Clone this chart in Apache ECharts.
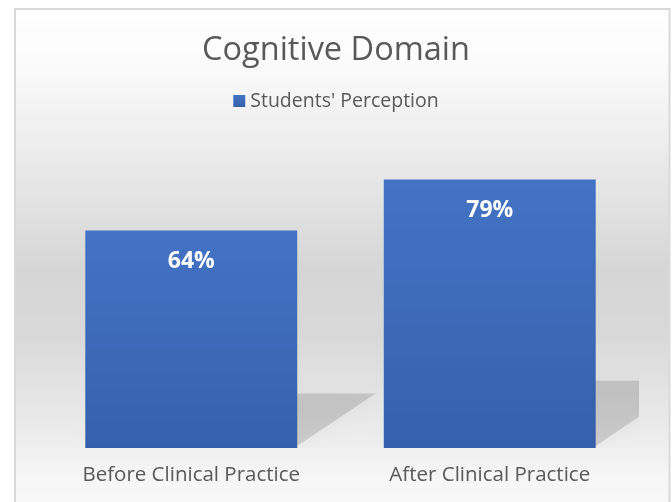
<!DOCTYPE html>
<html>
<head>
<meta charset="utf-8">
<script src="https://cdn.jsdelivr.net/npm/echarts@6/dist/echarts.min.js"></script>
<style>
    html, body { margin: 0; padding: 0; background: #ffffff; }
    #chart { width: 672px; height: 502px; }
</style>
</head>
<body>
<div id="chart"></div>
<script>
    // data
    const categories = ['Before Clinical Practice', 'After Clinical Practice'];
    const seriesName = "Students' Perception";
    const values = [64, 79];

    const textColor = '#595959';
    const fontFamily = '"Open Sans", "Noto Sans", sans-serif';

    const chart = echarts.init(document.getElementById('chart'));

    // perspective shadow cast by each bar onto the floor
    function renderShadow(params, api) {
        const idx = api.value(0);
        const base = api.coord([idx, 0]);
        const top = api.coord([idx, api.value(1)]);
        const bandW = api.size([1, 0])[0];
        const barW = bandW * 0.71;
        const h = base[1] - top[1];
        const dx = h * 0.36;
        const dy = h * 0.25;
        const xL = base[0] - barW / 2;
        const xR = base[0] + barW / 2;
        return {
            type: 'polygon',
            shape: {
                points: [
                    [xL, base[1] - 2],
                    [xR, base[1] - 2],
                    [xR + dx, base[1] - dy],
                    [xL + dx, base[1] - dy]
                ]
            },
            style: {
                fill: 'rgba(0,0,0,0.13)',
                shadowBlur: 14,
                shadowColor: 'rgba(0,0,0,0.22)'
            }
        };
    }

    const option = {
        backgroundColor: '#ffffff',
        animation: false,
        graphic: [{
            type: 'rect',
            z: -10,
            silent: true,
            shape: { x: 15, y: 9, width: 654.5, height: 520 },
            style: {
                stroke: '#d9d9d9',
                lineWidth: 2,
                fill: {
                    type: 'linear', x: 0, y: 0, x2: 0, y2: 1,
                    colorStops: [
                        { offset: 0, color: '#ffffff' },
                        { offset: 0.1, color: '#fbfbfb' },
                        { offset: 0.27, color: '#ececec' },
                        { offset: 0.5, color: '#d6d6d6' },
                        { offset: 0.62, color: '#d8d8d8' },
                        { offset: 0.79, color: '#e9e9e9' },
                        { offset: 0.9, color: '#f6f6f6' },
                        { offset: 1, color: '#fbfbfb' }
                    ]
                }
            }
        }],
        title: {
            text: 'Cognitive Domain',
            left: 'center',
            top: 29,
            textStyle: {
                color: textColor,
                fontFamily: fontFamily,
                fontSize: 32.5,
                fontWeight: 'normal'
            }
        },
        legend: {
            data: [seriesName],
            top: 86,
            left: 'center',
            icon: 'rect',
            itemWidth: 12,
            itemHeight: 12,
            itemGap: 6,
            textStyle: {
                color: textColor,
                fontFamily: fontFamily,
                fontSize: 19.5
            }
        },
        grid: {
            left: 42,
            right: 33,
            top: 108,
            bottom: 54,
            containLabel: false
        },
        xAxis: {
            type: 'category',
            data: categories,
            axisLine: { show: false },
            axisTick: { show: false },
            axisLabel: {
                color: textColor,
                fontFamily: fontFamily,
                fontSize: 20.5,
                margin: 17
            }
        },
        yAxis: {
            type: 'value',
            min: 0,
            max: 100,
            show: false,
            splitLine: { show: false }
        },
        series: [{
            name: 'shadow',
            type: 'custom',
            renderItem: renderShadow,
            data: values.map((v, i) => [i, v]),
            z: 1,
            clip: true,
            silent: true,
            tooltip: { show: false }
        }, {
            name: seriesName,
            type: 'bar',
            data: values,
            barWidth: '71%',
            z: 3,
            itemStyle: {
                color: {
                    type: 'linear', x: 0, y: 0, x2: 0, y2: 1,
                    colorStops: [
                        { offset: 0, color: '#4473c5' },
                        { offset: 1, color: '#3660ab' }
                    ]
                }
            },
            label: {
                show: true,
                position: 'insideTop',
                distance: 20,
                formatter: '{c}%',
                color: '#ffffff',
                fontFamily: fontFamily,
                fontWeight: 'bold',
                fontSize: 23
            }
        }]
    };

    chart.setOption(option);
</script>
</body>
</html>
